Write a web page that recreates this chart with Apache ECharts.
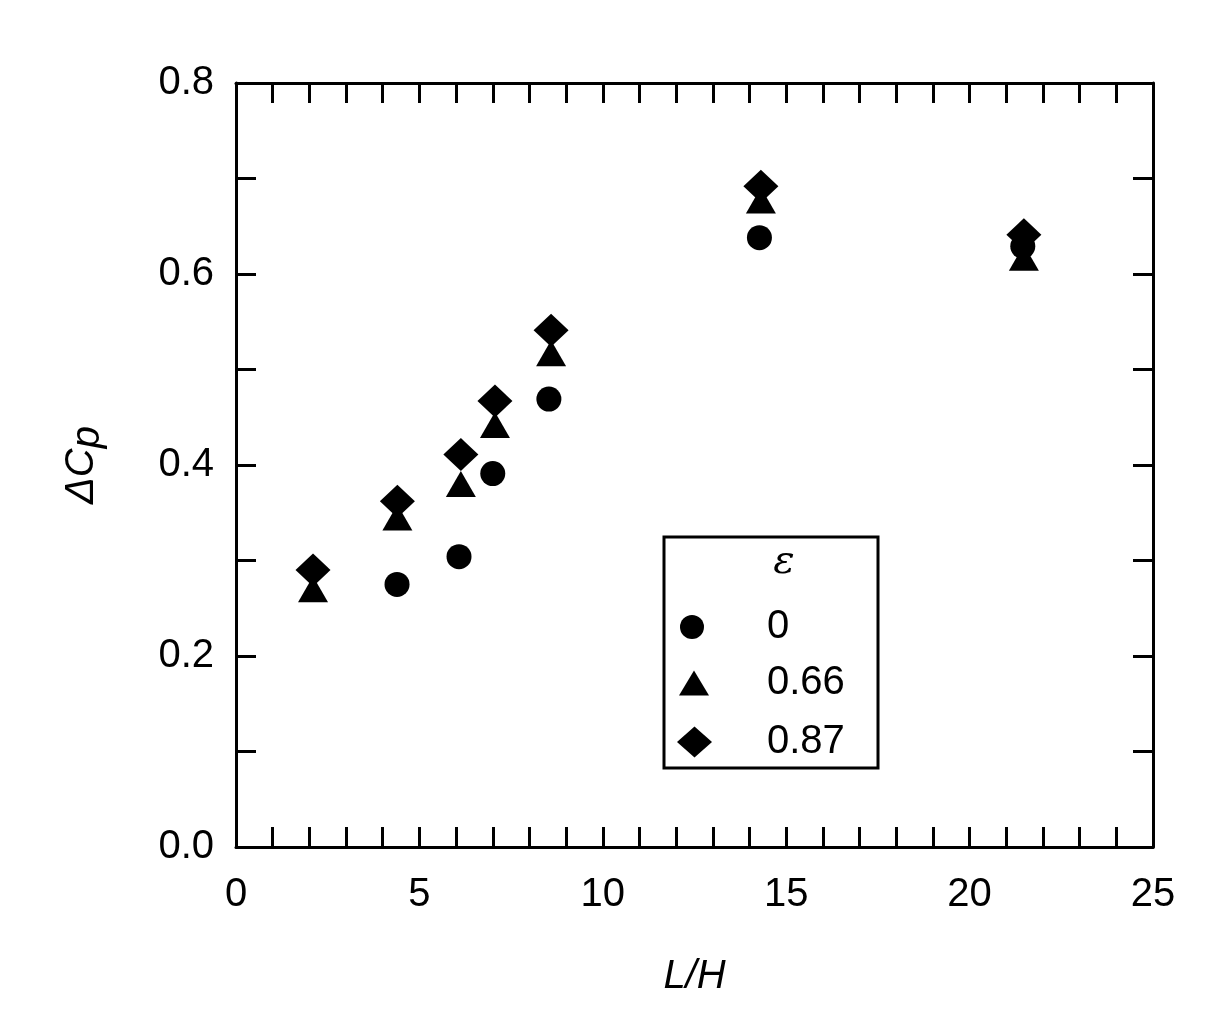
<!DOCTYPE html>
<html><head><meta charset="utf-8">
<script src="https://cdn.jsdelivr.net/npm/echarts@6/dist/echarts.min.js"></script>
<style>html,body{margin:0;padding:0;background:#fff}#c{width:1222px;height:1015px}</style>
</head><body><div id="c"></div>
<script>
const xEps0 = [4.39, 6.08, 7.0, 8.53, 14.27, 21.45];
const yEps0 = [0.275, 0.304, 0.391, 0.469, 0.638, 0.629];
const xEps066 = [2.1, 4.4, 6.13, 7.06, 8.59, 14.31, 21.48];
const yEps066 = [0.270, 0.345, 0.380, 0.442, 0.517, 0.677, 0.617];
const xEps087 = [2.1, 4.4, 6.13, 7.06, 8.59, 14.31, 21.48];
const yEps087 = [0.290, 0.362, 0.411, 0.467, 0.541, 0.692, 0.641];
const seriesNames = ['0', '0.66', '0.87'];
const legendTitle = 'ε';
const xTicks = [0, 5, 10, 15, 20, 25];
const yTicks = [0.0, 0.2, 0.4, 0.6, 0.8];

const pair = (xs, ys) => xs.map((x, i) => [x, ys[i]]);
const FONT = 'Liberation Sans, Arial, sans-serif';
const chart = echarts.init(document.getElementById('c'), null, {renderer: 'canvas'});

const tickStyle = {color: '#000', width: 3};
const axisBase = (minorSplit) => ({
  axisLine: {show: true, onZero: false, lineStyle: {color: '#000', width: 3}},
  axisTick: {show: true, inside: true, length: 20, lineStyle: tickStyle},
  minorTick: {show: true, splitNumber: minorSplit, length: 20, lineStyle: tickStyle},
  splitLine: {show: false},
  minorSplitLine: {show: false}
});

const legendCommon = {
  orient: 'vertical', padding: 0, itemGap: 0, z: 20,
  textStyle: {fontSize: 40, color: '#000', fontFamily: FONT, lineHeight: 40}
};

const option = {
  animation: false,
  backgroundColor: '#fff',
  grid: {left: 236, right: 69, top: 83, bottom: 168, containLabel: false},
  xAxis: [
    Object.assign(axisBase(5), {
      type: 'value', min: 0, max: 25, interval: 5, position: 'bottom',
      axisLabel: {fontSize: 40, color: '#000', fontFamily: FONT, margin: 28,
        formatter: v => xTicks.includes(v) ? String(v) : ''},
      name: 'L/H', nameLocation: 'middle', nameGap: 110,
      nameTextStyle: {fontSize: 40, fontStyle: 'italic', color: '#000', fontFamily: FONT}
    }),
    Object.assign(axisBase(5), {
      type: 'value', min: 0, max: 25, interval: 5, position: 'top',
      axisLabel: {show: false}
    })
  ],
  yAxis: [
    Object.assign(axisBase(2), {
      type: 'value', min: 0, max: 0.8, interval: 0.2, position: 'left',
      axisLabel: {fontSize: 40, color: '#000', fontFamily: FONT, margin: 22,
        formatter: v => v.toFixed(1)},
      name: '{d|Δ}{c|C}{p|p}', nameLocation: 'middle', nameGap: 128, nameRotate: 90,
      nameTextStyle: {color: '#000', fontFamily: FONT,
        rich: {
          d: {fontSize: 40, fontStyle: 'italic', fontFamily: FONT, color: '#000'},
          c: {fontSize: 40, fontStyle: 'italic', fontFamily: FONT, color: '#000'},
          p: {fontSize: 40, fontStyle: 'italic', fontFamily: FONT, color: '#000', padding: [12, 0, 0, 0]}
        }}
    }),
    Object.assign(axisBase(2), {
      type: 'value', min: 0, max: 0.8, interval: 0.2, position: 'right',
      axisLabel: {show: false}
    })
  ],
  legend: [
    Object.assign({}, legendCommon, {left: 680, top: 607, itemWidth: 24, itemHeight: 24, data: [seriesNames[0]],
      textStyle: Object.assign({}, legendCommon.textStyle, {padding: [0, 0, 0, 58]})}),
    Object.assign({}, legendCommon, {left: 679, top: 663, itemWidth: 30, itemHeight: 25, data: [seriesNames[1]],
      textStyle: Object.assign({}, legendCommon.textStyle, {padding: [0, 0, 0, 53]})}),
    Object.assign({}, legendCommon, {left: 677, top: 722, itemWidth: 35, itemHeight: 31, data: [seriesNames[2]],
      textStyle: Object.assign({}, legendCommon.textStyle, {padding: [0, 0, 0, 50]})})
  ],
  graphic: [
    {type: 'rect', z: 10, shape: {x: 664, y: 537, width: 214, height: 231},
      style: {fill: '#fff', stroke: '#000', lineWidth: 3}},
    {type: 'text', z: 21, x: 784, y: 563,
      style: {text: legendTitle, fontSize: 40, fontStyle: 'italic', fontFamily: 'DejaVu Serif, serif', fill: '#000',
        textAlign: 'center', textVerticalAlign: 'middle'}}
  ],
  series: [
    {name: seriesNames[0], type: 'scatter', symbol: 'circle', symbolSize: 25, data: pair(xEps0, yEps0),
      itemStyle: {color: '#000', opacity: 1}, z: 3},
    {name: seriesNames[1], type: 'scatter', symbol: 'triangle', symbolSize: [30, 26], data: pair(xEps066, yEps066),
      itemStyle: {color: '#000', opacity: 1}, z: 4},
    {name: seriesNames[2], type: 'scatter', symbol: 'diamond', symbolSize: [35, 33], data: pair(xEps087, yEps087),
      itemStyle: {color: '#000', opacity: 1}, z: 5}
  ]
};
chart.setOption(option);
</script></body></html>
